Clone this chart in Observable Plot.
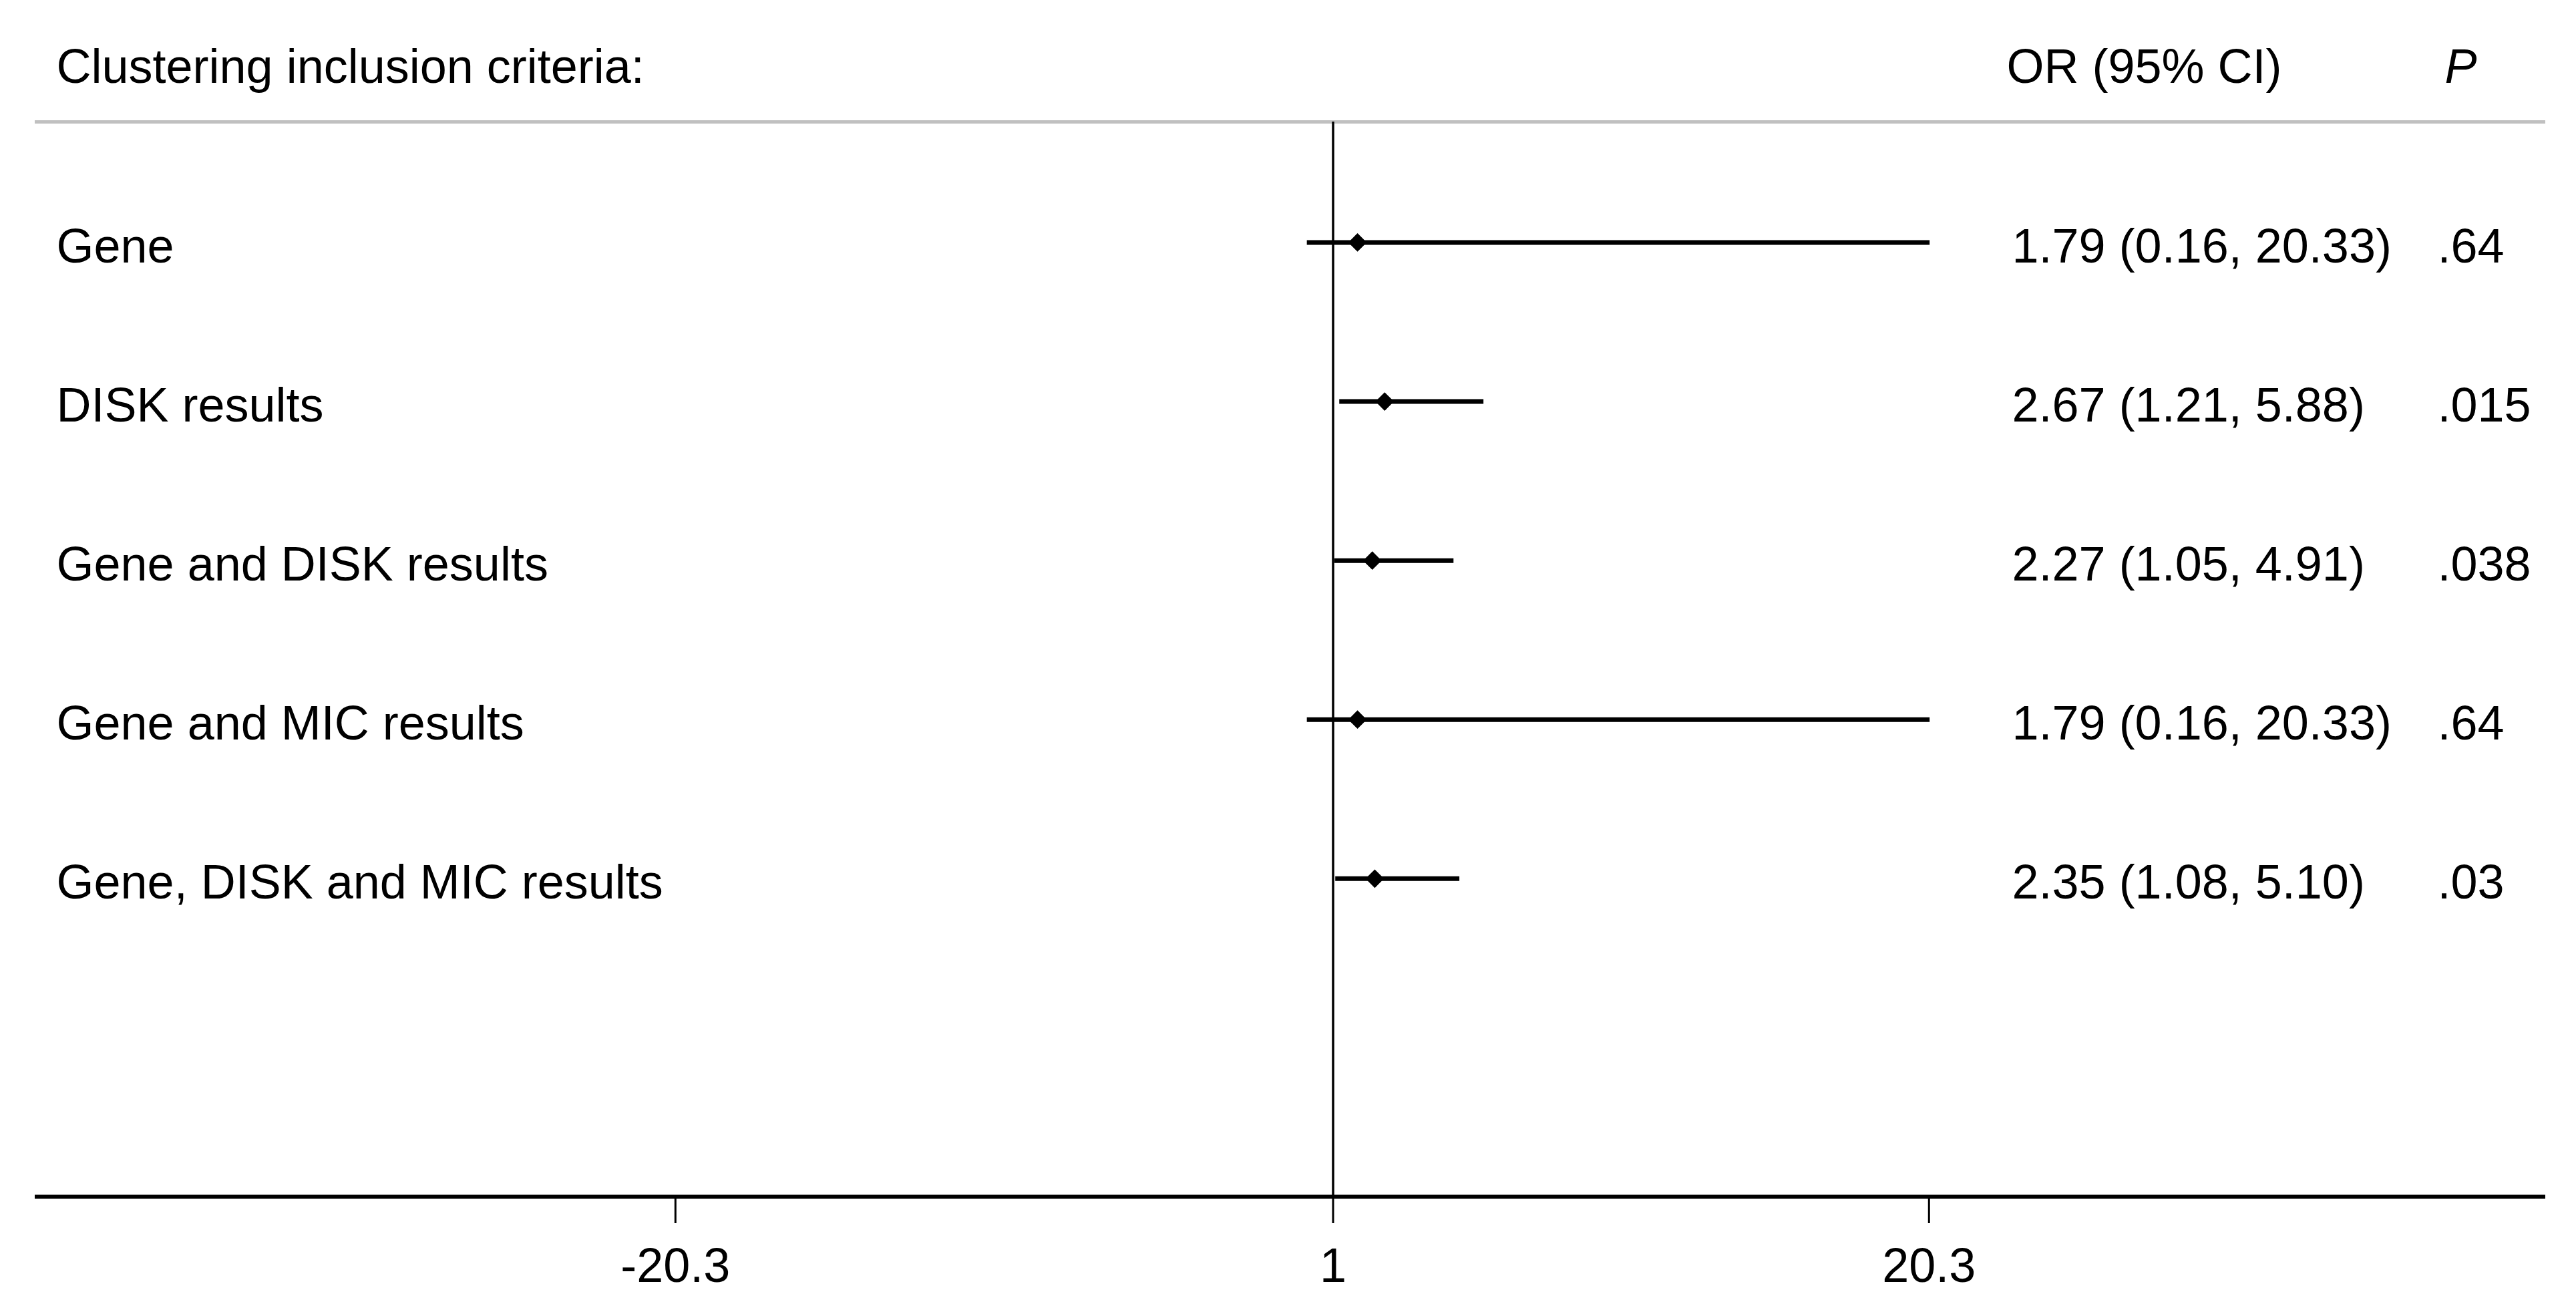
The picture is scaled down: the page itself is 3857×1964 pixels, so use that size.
<!DOCTYPE html>
<html>
<head>
<meta charset="utf-8">
<script src="https://cdn.jsdelivr.net/npm/d3@7"></script>
<script src="https://cdn.jsdelivr.net/npm/@observablehq/plot@0.6"></script>
<style>
  html, body { margin: 0; padding: 0; background: #fff; }
  svg { display: block; }
</style>
</head>
<body>
<div id="chart"></div>
<script>
// ---- data ----
const labels = ["Gene", "DISK results", "Gene and DISK results", "Gene and MIC results", "Gene, DISK and MIC results"];
const orValues = [1.79, 2.67, 2.27, 1.79, 2.35];
const ciLow = [0.16, 1.21, 1.05, 0.16, 1.08];
const ciHigh = [20.33, 5.88, 4.91, 20.33, 5.10];
const orTexts = ["1.79 (0.16, 20.33)", "2.67 (1.21, 5.88)", "2.27 (1.05, 4.91)", "1.79 (0.16, 20.33)", "2.35 (1.08, 5.10)"];
const pTexts = [".64", ".015", ".038", ".64", ".03"];
const xTicks = [-20.3, 1, 20.3];
const headerLeft = "Clustering inclusion criteria:";
const headerOR = "OR (95% CI)";
const headerP = "P";

// ---- table built from the arrays ----
const rows = labels.map((label, i) => ({
  row: i, label, or: orValues[i], lo: ciLow[i], hi: ciHigh[i], orText: orTexts[i], p: pTexts[i]
}));

const yTop = -0.758;   // header rule level (frame top)
const yAxis = 6;       // x-axis level (frame bottom)
const FS = 72;
const font = "'Liberation Sans', Arial, Helvetica, sans-serif";

const chart = Plot.plot({
  width: 3857,
  height: 1964,
  marginLeft: 52,
  marginRight: 46,
  marginTop: 182,
  marginBottom: 173,
  style: { fontFamily: font, background: "#fff", color: "#000" },
  x: { domain: [-41.04, 40.27], ticks: xTicks },
  y: { domain: [yTop, yAxis], reverse: true, axis: null },
  marks: [
    // header rule (gray)
    Plot.ruleY([yTop], { stroke: "#c0c0c0", strokeWidth: 5 }),
    // reference line at OR = 1
    Plot.ruleX([1], { stroke: "#000", strokeWidth: 3.5 }),
    // x axis line
    Plot.ruleY([yAxis], { stroke: "#000", strokeWidth: 6 }),
    Plot.axisX(xTicks, {
      tickSize: 40, tickPadding: 36, fontSize: FS, strokeWidth: 3,
      tickFormat: d => String(d), fill: "#000", stroke: "#000"
    }),
    // confidence intervals
    Plot.ruleY(rows, { y: "row", x1: "lo", x2: "hi", stroke: "#000", strokeWidth: 7 }),
    // point estimates
    Plot.dot(rows, { x: "or", y: "row", symbol: "diamond2", r: 12.5, fill: "#000", stroke: null }),
    // row labels
    Plot.text(rows, { y: "row", text: "label", frameAnchor: "left", textAnchor: "start", dx: 32, dy: 7, fontSize: FS, fill: "#000" }),
    // OR (95% CI) column
    Plot.text(rows, { y: "row", text: "orText", frameAnchor: "right", textAnchor: "start", dx: -799, dy: 7, fontSize: FS, fill: "#000" }),
    // P column
    Plot.text(rows, { y: "row", text: "p", frameAnchor: "right", textAnchor: "start", dx: -162, dy: 7, fontSize: FS, fill: "#000" }),
    // headers
    Plot.text([headerLeft], { text: d => d, frameAnchor: "top-left", textAnchor: "start", lineAnchor: "middle", dx: 32, dy: -82, fontSize: FS, fill: "#000" }),
    Plot.text([headerOR], { text: d => d, frameAnchor: "top-right", textAnchor: "start", lineAnchor: "middle", dx: -807, dy: -82, fontSize: FS, fill: "#000" }),
    Plot.text([headerP], { text: d => d, frameAnchor: "top-right", textAnchor: "start", lineAnchor: "middle", dx: -151, dy: -82, fontSize: FS, fontStyle: "italic", fill: "#000" })
  ]
});
document.getElementById("chart").appendChild(chart);
</script>
</body>
</html>
